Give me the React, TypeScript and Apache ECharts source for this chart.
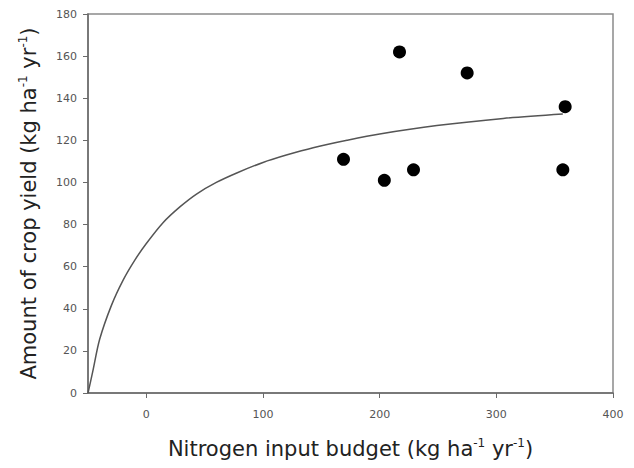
import React, { useEffect, useRef } from "react";
import * as echarts from "echarts";

// Observed data points (Nitrogen input budget, crop yield)
const pointX = [169, 204, 217, 229, 275, 357, 359];
const pointY = [111, 101, 162, 106, 152, 106, 136];

// Fitted curve
const curveX = [-50, -46, -40, -30, -20, -10, 0, 14.5, 29, 43, 60, 77.5, 100, 120, 143, 172, 200, 249, 306, 357];
const curveY = [0, 10, 25.5, 41.5, 53.5, 63, 71, 81, 88.5, 94.5, 100, 104.5, 109.5, 113, 116.5, 120, 123, 127, 130.4, 132.5];

const xTickValues = [0, 100, 200, 300, 400];
const xMin = -50;
const xMax = 400;
const yMin = 0;
const yMax = 180;
const yInterval = 20;

const xTitle = "Nitrogen input budget (kg ha{sup|-1} yr{sup|-1})";
const yTitle = "Amount of crop yield (kg ha{sup|-1} yr{sup|-1})";

export default function App() {
  const ref = useRef<HTMLDivElement>(null);
  useEffect(() => {
    if (!ref.current) return;
    const chart = echarts.init(ref.current, null, { renderer: "svg" });
    const font = "'DejaVu Sans', Verdana, sans-serif";
    const titleStyle = {
      fontFamily: font,
      fontSize: 21,
      color: "#222",
      lineHeight: 24,
      rich: {
        sup: { fontFamily: font, fontSize: 12, lineHeight: 12, verticalAlign: "top", color: "#222" },
      },
    };
    chart.setOption({
      animation: false,
      backgroundColor: "#fff",
      grid: {
        left: 88,
        right: 21,
        top: 14,
        bottom: 75,
        show: true,
        borderColor: "#8a8a8a",
        borderWidth: 1.5,
      },
      xAxis: {
        type: "value",
        min: xMin,
        max: xMax,
        name: xTitle,
        nameLocation: "middle",
        nameGap: 44,
        nameTextStyle: titleStyle,
        axisLine: { show: true, onZero: false, lineStyle: { color: "#6a6a6a", width: 1.5 } },
        axisTick: { show: true, length: 5, customValues: xTickValues, lineStyle: { color: "#6a6a6a" } },
        axisLabel: { customValues: xTickValues, fontFamily: font, fontSize: 11, color: "#555", margin: 16 },
        splitLine: { show: false },
      },
      yAxis: {
        type: "value",
        min: yMin,
        max: yMax,
        interval: yInterval,
        name: yTitle,
        nameLocation: "middle",
        nameGap: 47,
        nameTextStyle: titleStyle,
        axisLine: { show: true, onZero: false, lineStyle: { color: "#6a6a6a", width: 1.5 } },
        axisTick: { show: true, length: 5, lineStyle: { color: "#6a6a6a" } },
        axisLabel: { fontFamily: font, fontSize: 11, color: "#555", margin: 11 },
        splitLine: { show: false },
      },
      series: [
        {
          type: "line",
          data: curveX.map((x, i) => [x, curveY[i]]),
          showSymbol: false,
          smooth: 0.3,
          lineStyle: { color: "#555", width: 1.5 },
          z: 2,
        },
        {
          type: "scatter",
          data: pointX.map((x, i) => [x, pointY[i]]),
          symbol: "circle",
          symbolSize: 13,
          itemStyle: { color: "#000", opacity: 1 },
          z: 3,
        },
      ],
    });
    return () => chart.dispose();
  }, []);
  return (
    <div
      ref={ref}
      style={{ position: "fixed", left: 0, top: 0, width: 634, height: 468 }}
    />
  );
}
